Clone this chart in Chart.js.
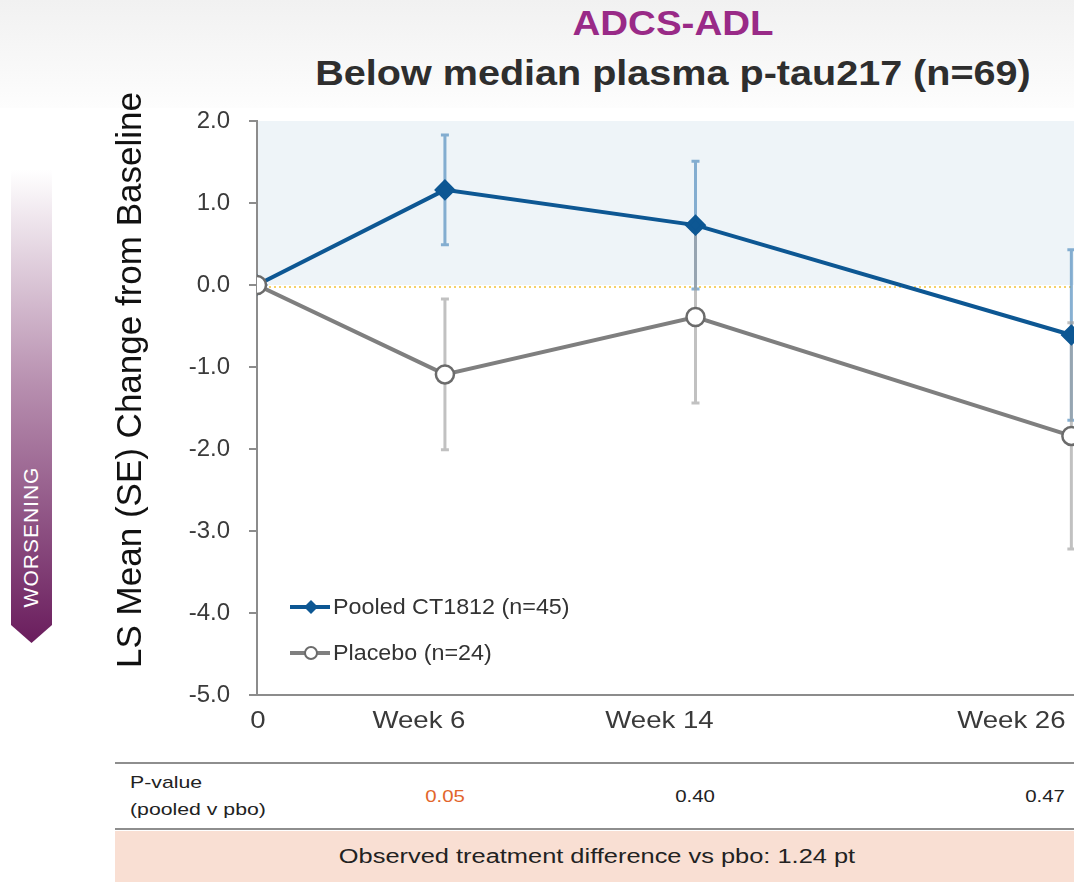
<!DOCTYPE html>
<html>
<head>
<meta charset="utf-8">
<script src="https://cdn.jsdelivr.net/npm/chart.js@4.4.1/dist/chart.umd.min.js"></script>
<style>
body{margin:0;width:1074px;height:882px;overflow:hidden;position:relative;background:#fff;font-family:"Liberation Sans",Arial,sans-serif;}
#band{position:absolute;left:0;top:0;width:1074px;height:108px;background:linear-gradient(#f1f1f1,#fdfdfd);}
.title{position:absolute;left:673px;white-space:nowrap;font-weight:bold;}
#t1{top:3px;font-size:35px;color:#992a87;transform:translateX(-50%) scaleX(1.1);}
#t2{top:53px;font-size:35px;color:#2e2e2e;transform:translateX(-50%) scaleX(1.13);}
#arrow{position:absolute;left:11px;top:170px;width:41px;height:473px;
  background:linear-gradient(#ffffff,#b890b0 45%,#6a1d5d);
  clip-path:polygon(0 0,100% 0,100% 455px,50% 100%,0 455px);}
#worse{position:absolute;left:31px;top:537px;transform:translate(-50%,-50%) rotate(-90deg);color:#fff;font-size:21px;letter-spacing:1px;white-space:nowrap;}
#wrap{position:absolute;left:0;top:0;width:1150px;height:740px;}
.rule{position:absolute;left:115px;width:959px;height:2px;background:#8e8e8e;}
.cell{position:absolute;font-size:17px;color:#222;transform-origin:0 0;transform:scaleX(1.25);}
.num{position:absolute;font-size:17px;color:#222;transform:translateX(-50%) scaleX(1.2);}
#diff{position:absolute;left:115px;top:831px;width:959px;height:51px;background:#f9dfd3;}
#diff span{position:absolute;left:482px;top:0;line-height:51px;font-size:20px;color:#222;white-space:nowrap;transform:translateX(-50%) scaleX(1.27);}
</style>
</head>
<body>
<div id="band"></div>
<div class="title" id="t1">ADCS-ADL</div>
<div class="title" id="t2">Below median plasma p-tau217 (n=69)</div>
<div id="arrow"></div>
<div id="worse">WORSENING</div>
<div id="wrap"><canvas id="grafico" width="1150" height="740"></canvas></div>

<div class="rule" style="top:762px"></div>
<div class="cell" style="left:130px;top:773px">P-value</div>
<div class="cell" style="left:130px;top:800px">(pooled v pbo)</div>
<div class="num" style="left:445px;top:787px;color:#e2652b">0.05</div>
<div class="num" style="left:695px;top:787px">0.40</div>
<div class="num" style="left:1045px;top:787px">0.47</div>
<div class="rule" style="top:828px"></div>
<div id="diff"><span>Observed treatment difference vs pbo: 1.24 pt</span></div>

<script>
// ===========================
// DADOS
// ===========================

const semanas = [0, 6, 14, 26];
const rotulosX = ["0", "Week 6", "Week 14", "Week 26"];

const ct1812Media = [0, 1.16, 0.73, -0.61];
const ct1812SE    = [0, 0.67, 0.78, 1.04];

const placeboMedia = [0, -1.09, -0.39, -1.84];
const placeboSE    = [0, 0.92, 1.05, 1.38];

const legendas = ["Pooled CT1812 (n=45)", "Placebo (n=24)"];
const tituloY = "LS Mean (SE) Change from Baseline";

const AZUL = '#0d5793';
const CINZA = '#7f7f7f';


// ===========================
// PLUGINS
// ===========================

// faixa azul clara (0 a 2) e linha pontilhada no zero
const faixa = {
    id: 'faixa',
    beforeDatasetsDraw(chart){
        const {ctx, chartArea, scales:{x, y}} = chart;
        ctx.save();
        ctx.fillStyle = '#eef4f8';
        ctx.fillRect(chartArea.left + 1, y.getPixelForValue(2), chartArea.right - chartArea.left, y.getPixelForValue(0) - y.getPixelForValue(2));
        ctx.strokeStyle = '#f4d26a';
        ctx.lineWidth = 2;
        ctx.setLineDash([2, 3]);
        ctx.beginPath();
        ctx.moveTo(chartArea.left + 2, y.getPixelForValue(0) + 2);
        ctx.lineTo(chartArea.right, y.getPixelForValue(0) + 2);
        ctx.stroke();
        ctx.restore();
    }
};

// barras de erro (SE)
const barrasErro = {
    id: 'barrasErro',
    beforeDatasetsDraw(chart){
        const {ctx, scales:{x, y}} = chart;
        const series = [
            {m: ct1812Media, se: ct1812SE, cor: 'rgba(95,150,195,0.75)'},
            {m: placeboMedia, se: placeboSE, cor: 'rgba(160,160,160,0.65)'}
        ];
        ctx.save();
        ctx.lineWidth = 3;
        series.forEach(s => {
            ctx.strokeStyle = s.cor;
            semanas.forEach((w, i) => {
                if(!s.se[i]) return;
                const px = x.getPixelForValue(w);
                const top = y.getPixelForValue(s.m[i] + s.se[i]);
                const bot = y.getPixelForValue(s.m[i] - s.se[i]);
                ctx.beginPath();
                ctx.moveTo(px, top); ctx.lineTo(px, bot);
                ctx.moveTo(px - 4, top); ctx.lineTo(px + 4, top);
                ctx.moveTo(px - 4, bot); ctx.lineTo(px + 4, bot);
                ctx.stroke();
            });
        });
        ctx.restore();
    }
};

// rotulos do eixo x, titulo do eixo y e legenda
const textos = {
    id: 'textos',
    afterDraw(chart){
        const {ctx, scales:{x, y}} = chart;
        const ajuste = [1, -26, -36, -60];
        ctx.save();
        ctx.font = '24px "Liberation Sans", Arial';
        ctx.fillStyle = '#3a3a3a';
        ctx.textAlign = 'center';
        ctx.textBaseline = 'middle';
        semanas.forEach((w, i) => {
            const px = x.getPixelForValue(w) + ajuste[i];
            ctx.save();
            ctx.translate(px, 721);
            ctx.scale(1.15, 1);
            ctx.fillText(rotulosX[i], 0, 0);
            ctx.restore();
        });

        // titulo do eixo y
        ctx.save();
        ctx.translate(131, 380);
        ctx.rotate(-Math.PI / 2);
        ctx.font = '35px "Liberation Sans", Arial';
        ctx.fillStyle = '#111';
        ctx.fillText(tituloY, 0, 0);
        ctx.restore();

        // legenda
        const itens = [
            {txt: legendas[0], cor: AZUL, tipo: 'diamante'},
            {txt: legendas[1], cor: CINZA, tipo: 'circulo'}
        ];
        itens.forEach((it, i) => {
            const yy = 607 + i * 46;
            ctx.strokeStyle = it.cor;
            ctx.lineWidth = 4;
            ctx.beginPath();
            ctx.moveTo(290, yy); ctx.lineTo(330, yy);
            ctx.stroke();
            if(it.tipo === 'diamante'){
                ctx.fillStyle = it.cor;
                ctx.beginPath();
                ctx.moveTo(311, yy - 7); ctx.lineTo(318, yy); ctx.lineTo(311, yy + 7); ctx.lineTo(304, yy);
                ctx.closePath(); ctx.fill();
            } else {
                ctx.fillStyle = '#fff';
                ctx.strokeStyle = '#6b6b6b';
                ctx.lineWidth = 2;
                ctx.beginPath();
                ctx.arc(311, yy, 6, 0, Math.PI * 2);
                ctx.fill(); ctx.stroke();
            }
            ctx.save();
            ctx.translate(333, yy + 1);
            ctx.scale(1.06, 1);
            ctx.fillStyle = '#333';
            ctx.font = '22px "Liberation Sans", Arial';
            ctx.textAlign = 'left';
            ctx.fillText(it.txt, 0, 0);
            ctx.restore();
        });
        ctx.restore();
    }
};


// ===========================
// GRÁFICO
// ===========================

new Chart(
    document.getElementById("grafico"),
    {
    type: "line",
    data: {
        datasets: [
            {
                label: legendas[1],
                data: semanas.map((w, i) => ({x: w, y: placeboMedia[i]})),
                borderColor: CINZA,
                borderWidth: 4,
                pointStyle: 'circle',
                pointRadius: 9,
                pointBackgroundColor: '#fff',
                pointBorderColor: '#6b6b6b',
                pointBorderWidth: 2.5,
                order: 0
            },
            {
                label: legendas[0],
                data: semanas.map((w, i) => ({x: w, y: ct1812Media[i]})),
                borderColor: AZUL,
                borderWidth: 4,
                pointStyle: 'rectRot',
                pointRadius: 8,
                pointBackgroundColor: AZUL,
                pointBorderColor: AZUL,
                order: 1
            }
        ]
    },
    options: {
        responsive: false,
        maintainAspectRatio: false,
        animation: false,
        layout: {padding: {left: 107, top: 121, right: 16, bottom: 0}},
        plugins: {legend: {display: false}, tooltip: {enabled: false}},
        scales: {
            x: {
                type: 'linear',
                min: 0,
                max: 28,
                ticks: {display: false},
                grid: {display: false},
                border: {color: '#8c8c8c', width: 2},
                afterFit(s){ s.height = 45; }
            },
            y: {
                min: -5,
                max: 2,
                ticks: {
                    stepSize: 1,
                    padding: 19,
                    color: '#3a3a3a',
                    font: {size: 24, family: '"Liberation Sans", Arial'},
                    callback: v => v.toFixed(1)
                },
                grid: {drawOnChartArea: false, drawTicks: true, tickLength: 8, color: '#8c8c8c', lineWidth: 2},
                border: {color: '#8c8c8c', width: 2},
                afterFit(s){ s.width = 150; }
            }
        }
    },
    plugins: [faixa, barrasErro, textos]
    }
);
</script>
</body>
</html>
